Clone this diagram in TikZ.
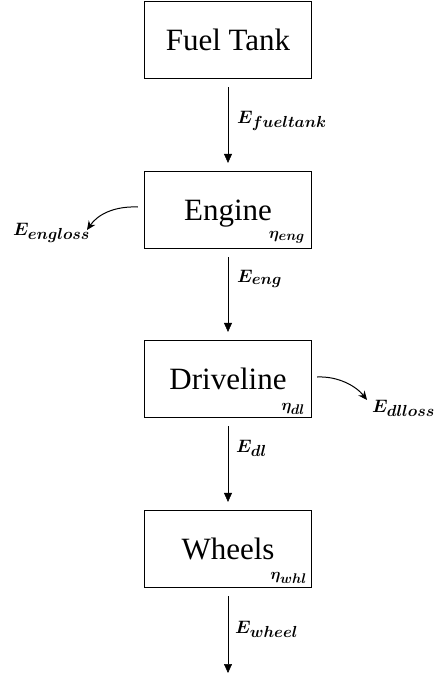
\documentclass[tikz,border=0pt]{standalone}
\usepackage{fix-cm}
\usepackage{fontspec}
\setmainfont{Liberation Serif}
\newfontfamily\boxfont{Liberation Serif}
\usetikzlibrary{arrows.meta}
\DeclareMathSizes{18}{18}{16}{12}
\DeclareMathSizes{16}{16}{14}{10}
\tikzset{
  box/.style={draw, line width=1.2pt, minimum width=167pt, minimum height=77pt,
    inner sep=0pt, text height=20.5pt, text depth=0pt,
    font=\boxfont\fontsize{31}{36}\selectfont},
  lbl/.style={anchor=base west, inner sep=0pt, font=\fontsize{18}{21}\selectfont\boldmath},
  eff/.style={anchor=base east, inner sep=0pt, font=\fontsize{16}{18}\selectfont\boldmath},
  flow/.style={-{Triangle[length=9pt,width=8pt]}, line width=0.5pt},
  loss/.style={-{Stealth[length=9pt,width=8pt]}, line width=1pt},
}
\begin{document}
\begin{tikzpicture}[x=1pt,y=-1pt]
\useasboundingbox (0,0) rectangle (436,677);
\node[box] (tank) at (228,40) {Fuel Tank};
\node[box] (engine) at (228,210) {Engine};
\node[box] (driveline) at (228,379) {Driveline};
\node[box] (wheels) at (228,549) {Wheels};

\node[eff] (etaeng) at ([xshift=-7pt,yshift=11pt]engine.south east) {$\eta_{eng}$};
\node[eff] (etadl) at ([xshift=-7pt,yshift=8pt]driveline.south east) {$\eta_{dl}$};
\node[eff] (etawhl) at ([xshift=-5pt,yshift=9pt]wheels.south east) {$\eta_{whl}$};

\coordinate (out) at (228,673);
\draw[flow] ([yshift=-8pt]tank.south) -- ([yshift=8pt]engine.north);
\draw[flow] ([yshift=-8pt]engine.south) -- ([yshift=8pt]driveline.north);
\draw[flow] ([yshift=-8pt]driveline.south) -- ([yshift=8pt]wheels.north);
\draw[flow] ([yshift=-8pt]wheels.south) -- (out);

\node[lbl] (efuel) at (237,123) {$E_{fueltank}$};
\node[lbl] (eeng) at (237,282) {$E_{eng}$};
\node[lbl] (edl) at (236,452) {$E_{dl}$};
\node[lbl] (ewheel) at (235,633) {$E_{wheel}$};

\node[lbl] (engloss) at (13,235) {$E_{engloss}$};
\node[lbl] (dlloss) at (372,412) {$E_{dlloss}$};

\coordinate (englosstip) at (87,230);
\coordinate (dllosstip) at (367,400);
\draw[loss] ([xshift=-6pt,yshift=3pt]engine.west) .. controls (115,206) and (98,214) .. (englosstip);
\draw[loss] ([xshift=5pt,yshift=2pt]driveline.east) .. controls (338,376) and (356,386) .. (dllosstip);
\end{tikzpicture}
\end{document}
